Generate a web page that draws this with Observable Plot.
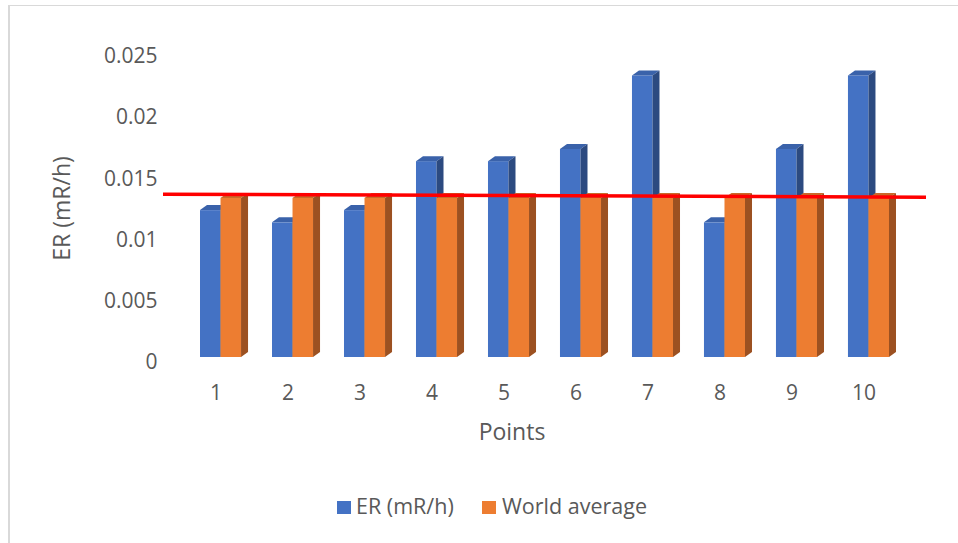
<!DOCTYPE html>
<html>
<head>
<meta charset="utf-8">
<script src="https://cdn.jsdelivr.net/npm/d3@7"></script>
<script src="https://cdn.jsdelivr.net/npm/@observablehq/plot@0.6"></script>
<style>
  html, body { margin: 0; padding: 0; background: #fff; }
  #wrap { position: relative; width: 958px; height: 543px; overflow: hidden; font-family: "Open Sans", sans-serif; color: #595959; }
  #border { position: absolute; left: 8px; top: 5px; width: 960px; height: 560px; border-left: 2px solid #d9d9d9; border-top: 1px solid #d9d9d9; box-sizing: border-box; }
  #chart { position: absolute; left: 0; top: 0; }
  .sw { position: absolute; width: 14px; height: 13px; }
  .lt { position: absolute; font-size: 21.5px; line-height: 28px; white-space: nowrap; }
</style>
</head>
<body>
<div id="wrap">
  <div id="border"></div>
  <div id="chart"></div>
  <div id="legend"></div>
</div>
<script>
// ---- data ----
const points = ["1", "2", "3", "4", "5", "6", "7", "8", "9", "10"];
const er = [0.012, 0.011, 0.012, 0.016, 0.016, 0.017, 0.023, 0.011, 0.017, 0.023];
const worldAverage = [0.013, 0.013, 0.013, 0.013, 0.013, 0.013, 0.013, 0.013, 0.013, 0.013];
const yTicks = [0, 0.005, 0.01, 0.015, 0.02, 0.025];
const redLine = [0.0133, 0.01305]; // hand-drawn reference line: left end, right end
const seriesNames = ["ER (mR/h)", "World average"];
const yTitle = "ER (mR/h)";
const xTitle = "Points";

// ---- style ----
const colors = {
  erFront: "#4472C4", erTop: "#3A62AA", erSide: "#2C4A80",
  waFront: "#ED7D31", waTop: "#C96A2A", waSide: "#9C5121",
  red: "#FF0000"
};
const W = 958, H = 470;
const mL = 163, mR = 32, mT = 51, mB = 113;
const padInner = 0.43, padOuter = 0.514;
const depthX = 7, depthY = -5;
const step = (W - mL - mR) / (points.length - padInner + 2 * padOuter);
const half = step * (1 - padInner) / 2;

function faces(vals, offset, topColor, sideColor) {
  return (index, scales) => {
    const x = scales.x, y = scales.y;
    const bw = typeof x.bandwidth === "function" ? x.bandwidth() : (x.bandwidth ?? half * 2);
    const h = bw / 2;
    const g = d3.create("svg:g");
    points.forEach((p, i) => {
      const x0 = x(p) + offset * h, x1 = x0 + h;
      const yt = y(vals[i]), yb = y(0);
      g.append("polygon")
        .attr("points", [[x0, yt], [x1, yt], [x1 + depthX, yt + depthY], [x0 + depthX, yt + depthY]].join(" "))
        .attr("fill", topColor);
      g.append("polygon")
        .attr("points", [[x1, yt], [x1 + depthX, yt + depthY], [x1 + depthX, yb + depthY], [x1, yb]].join(" "))
        .attr("fill", sideColor);
    });
    return g.node();
  };
}

function refLine(index, scales, values, dims) {
  const y = scales.y;
  const g = d3.create("svg:g");
  g.append("line")
    .attr("x1", dims.marginLeft).attr("x2", dims.width - dims.marginRight)
    .attr("y1", y(redLine[0])).attr("y2", y(redLine[1]))
    .attr("stroke", colors.red).attr("stroke-width", 3.5);
  return g.node();
}

const chart = Plot.plot({
  width: W, height: H,
  marginLeft: mL, marginRight: mR, marginTop: mT, marginBottom: mB,
  style: { fontFamily: "Open Sans, sans-serif", fontSize: "21px", color: "#595959", background: "transparent" },
  x: { domain: points, type: "band", paddingInner: padInner, paddingOuter: padOuter, round: false },
  y: { domain: [0, 0.025] },
  marks: [
    Plot.barY(points, { x: d => d, y: (d, i) => er[i], fill: colors.erFront, insetRight: half }),
    faces(er, 0, colors.erTop, colors.erSide),
    Plot.barY(points, { x: d => d, y: (d, i) => worldAverage[i], fill: colors.waFront, insetLeft: half }),
    faces(worldAverage, 1, colors.waTop, colors.waSide),
    refLine,
    Plot.axisY({ ticks: yTicks, tickSize: 0, tickPadding: 6, dy: 5, tickFormat: d => String(d), label: null }),
    Plot.axisX({ tickSize: 0, tickPadding: 28, dx: -5, label: null }),
    Plot.text([yTitle], { frameAnchor: "left", textAnchor: "middle", lineAnchor: "middle", dx: -101, dy: 4, rotate: -90, fontSize: 23, fill: "#595959" }),
    Plot.text([xTitle], { frameAnchor: "bottom", textAnchor: "middle", lineAnchor: "middle", dx: -33, dy: 75, fontSize: 23, fill: "#595959" })
  ]
});
document.getElementById("chart").appendChild(chart);

// ---- legend ----
const legend = document.getElementById("legend");
const items = [
  { name: seriesNames[0], color: colors.erFront, sx: 337, tx: 356 },
  { name: seriesNames[1], color: colors.waFront, sx: 482, tx: 502 }
];
items.forEach(it => {
  const sw = document.createElement("div");
  sw.className = "sw";
  sw.style.left = it.sx + "px"; sw.style.top = "501px"; sw.style.background = it.color;
  legend.appendChild(sw);
  const t = document.createElement("div");
  t.className = "lt";
  t.style.left = it.tx + "px"; t.style.top = "492px";
  t.textContent = it.name;
  legend.appendChild(t);
});
</script>
</body>
</html>
